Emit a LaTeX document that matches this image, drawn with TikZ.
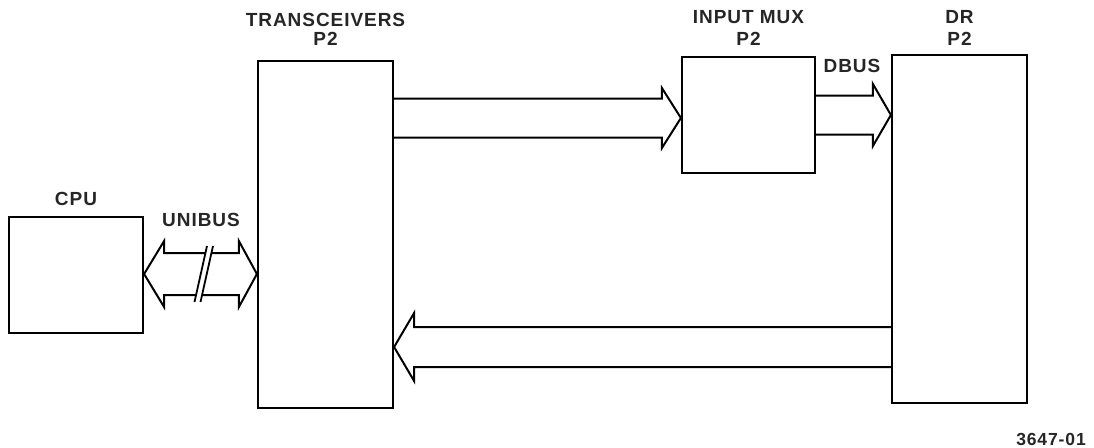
\documentclass[tikz,border=0pt]{standalone}
\usepackage{fontspec}
\setmainfont{Liberation Sans}
\newfontfamily\lblfont[LetterSpace=5]{Liberation Sans Bold}
\usetikzlibrary{calc}
\tikzset{
  box/.style={draw, line width=2.2pt, inner sep=0pt, rectangle},
  lbl/.style={font=\lblfont\fontsize{19}{21}\selectfont, inner sep=0pt, text height=13.6pt, text depth=0pt, text=black!85},
  fat/.style={line width=2pt, line join=miter},
}
\begin{document}
\begin{tikzpicture}[x=1pt,y=-1pt]
\useasboundingbox (0,0) rectangle (1094,447);
% boxes
\node[box, minimum width=134pt, minimum height=116pt] (cpu)   at (76,275) {};
\node[box, minimum width=135pt, minimum height=347pt] (trans) at (325.5,234.5) {};
\node[box, minimum width=133pt, minimum height=116pt] (mux)   at (748.5,115) {};
\node[box, minimum width=135pt, minimum height=348pt] (dr)    at (959.5,229) {};
% labels
\node[lbl] (cpul) at (cpu.north |- 0,198.5) {CPU};
\node[lbl] (transl1) at (trans.north |- 0,19.5) {TRANSCEIVERS};
\node[lbl] (transl2) at (trans.north |- 0,38.5) {P2};
\node[lbl] (muxl1) at (mux.north |- 0,17) {INPUT MUX};
\node[lbl] (muxl2) at (mux.north |- 0,38.5) {P2};
\node[lbl] (drl1) at (dr.north |- 0,17) {DR};
\node[lbl] (drl2) at (dr.north |- 0,38.5) {P2};
\node[lbl] (unibus) at (201,220) {UNIBUS};
\node[lbl] (dbus) at (852,66) {DBUS};
\node[lbl, font=\lblfont\fontsize{17.5}{19}\selectfont, text height=12.5pt] (num) at (1051,439) {3647-01};
% reference rows
\coordinate (r1) at (0,118);
\coordinate (r2) at (0,115);
\coordinate (r3) at (0,347);
\coordinate (r4) at (0,274);
% TRANSCEIVERS -> INPUT MUX
\draw[fat] let \p1=(trans.east |- r1), \p2=(mux.west |- r1) in
  (\x1,\y1+19.5pt) -- (\x2-19pt,\y1+19.5pt) -- (\x2-19pt,\y1+30pt) -- (\x2,\y1)
  -- (\x2-19pt,\y1-30pt) -- (\x2-19pt,\y1-19.5pt) -- (\x1,\y1-19.5pt);
% INPUT MUX -> DR (DBUS)
\draw[fat] let \p1=(mux.east |- r2), \p2=(dr.west |- r2) in
  (\x1,\y1+19.5pt) -- (\x2-18pt,\y1+19.5pt) -- (\x2-18pt,\y1+31pt) -- (\x2,\y1)
  -- (\x2-18pt,\y1-31pt) -- (\x2-18pt,\y1-19.5pt) -- (\x1,\y1-19.5pt);
% DR -> TRANSCEIVERS
\draw[fat] let \p1=(dr.west |- r3), \p2=(trans.east |- r3) in
  (\x1,\y1+20pt) -- (\x2+20pt,\y1+20pt) -- (\x2+20pt,\y1+34pt) -- (\x2,\y1)
  -- (\x2+20pt,\y1-34pt) -- (\x2+20pt,\y1-20pt) -- (\x1,\y1-20pt);
% UNIBUS double arrow CPU <-> TRANSCEIVERS
\draw[fat] let \p1=(cpu.east |- r4), \p2=(trans.west |- r4) in
  (\x1,\y1) -- (\x1+20pt,\y1+33pt) -- (\x1+20pt,\y1+21pt) -- (\x2-18pt,\y1+21pt)
  -- (\x2-18pt,\y1+33pt) -- (\x2,\y1) -- (\x2-18pt,\y1-33pt) -- (\x2-18pt,\y1-21pt)
  -- (\x1+20pt,\y1-21pt) -- (\x1+20pt,\y1-33pt) -- cycle;
% break marks
\fill[white] (207,247) -- (213,247) -- (200,302) -- (194,302) -- cycle;
\draw[line width=1.8pt] (207,246) -- (194.5,302);
\draw[line width=1.8pt] (213,246) -- (200.5,302);
\end{tikzpicture}
\end{document}
